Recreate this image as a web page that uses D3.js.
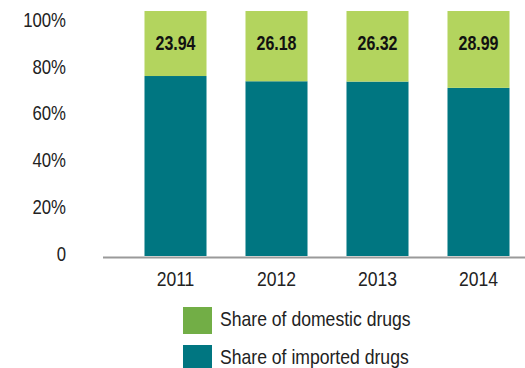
<!DOCTYPE html>
<html>
<head>
<meta charset="utf-8">
<script src="https://cdn.jsdelivr.net/npm/d3@7"></script>
<style>
  body{margin:0;background:#fff;}
  svg text{font-family:"Liberation Sans",Arial,sans-serif;}
</style>
</head>
<body>
<div class="svgWrap"></div>
<script>
var years = ['2011','2012','2013','2014'];
var domestic = [23.94, 26.18, 26.32, 28.99];
var imported = [76.06, 73.82, 73.68, 71.01];
var yTicks = [0, 20, 40, 60, 80, 100];
var seriesNames = ['Share of domestic drugs', 'Share of imported drugs'];

var width = 525, height = 368;
var green = '#b3d45e', legendGreen = '#72ae46', teal = '#007681';

// no narrow font installed, so squeeze text horizontally
function place(x, y, sx){
  return 'translate(' + x + ',' + y + ') scale(' + sx + ',1)';
}

var svg = d3.select('.svgWrap')
  .append('svg')
  .attr('width', width)
  .attr('height', height);

var x = d3.scaleBand()
  .domain(years)
  .range([125, 529])
  .paddingInner(0.386)
  .paddingOuter(0.193);

var y = d3.scaleLinear()
  .domain([0, 100])
  .range([254, 20]);

var barTop = y(100) - 9;
var barBottom = y(0) + 2;

//imported part of each bar
svg.selectAll('.imp')
  .data(imported)
  .enter()
  .append('rect')
  .attr('class', 'imp')
  .attr('x', function(d, i){ return x(years[i]); })
  .attr('width', x.bandwidth())
  .attr('y', function(d){ return y(d); })
  .attr('height', function(d){ return barBottom - y(d); })
  .attr('fill', teal);

//domestic part stacked on top
svg.selectAll('.dom')
  .data(domestic)
  .enter()
  .append('rect')
  .attr('class', 'dom')
  .attr('x', function(d, i){ return x(years[i]); })
  .attr('width', x.bandwidth())
  .attr('y', barTop)
  .attr('height', function(d, i){ return y(imported[i]) - barTop; })
  .attr('fill', green);

//value labels
svg.selectAll('.val')
  .data(domestic)
  .enter()
  .append('text')
  .attr('class', 'val')
  .attr('transform', function(d, i){ return place(x(years[i]) + x.bandwidth()/2, y(100) + 23, 0.82); })
  .attr('dy', '0.35em')
  .attr('text-anchor', 'middle')
  .style('font-size', '19.5px')
  .style('font-weight', 'bold')
  .attr('fill', '#111')
  .text(function(d){ return d.toFixed(2); });

//x axis line
svg.append('line')
  .attr('x1', 103)
  .attr('x2', width)
  .attr('y1', barBottom + 1.5)
  .attr('y2', barBottom + 1.5)
  .attr('stroke', '#9a9a9a')
  .attr('stroke-width', 2);

//year labels
svg.selectAll('.yr')
  .data(years)
  .enter()
  .append('text')
  .attr('class', 'yr')
  .attr('transform', function(d){ return place(x(d) + x.bandwidth()/2, 279, 0.9); })
  .attr('dy', '0.35em')
  .attr('text-anchor', 'middle')
  .style('font-size', '19.5px')
  .attr('fill', '#222')
  .text(function(d){ return d; });

//y tick labels
svg.selectAll('.yt')
  .data(yTicks)
  .enter()
  .append('text')
  .attr('class', 'yt')
  .attr('transform', function(d){ return place(66, y(d), 0.86); })
  .attr('dy', '0.35em')
  .attr('text-anchor', 'end')
  .style('font-size', '19.5px')
  .attr('fill', '#222')
  .text(function(d){ return d === 0 ? '0' : d + '%'; });

//legend
var legend = svg.selectAll('.leg')
  .data(seriesNames)
  .enter()
  .append('g')
  .attr('class', 'leg')
  .attr('transform', function(d, i){ return 'translate(183,' + (307 + i*38) + ')'; });

legend.append('rect')
  .attr('width', 29)
  .attr('height', 27)
  .attr('fill', function(d, i){ return i === 0 ? legendGreen : teal; });

legend.append('text')
  .attr('transform', place(37, 12, 0.88))
  .attr('dy', '0.35em')
  .style('font-size', '20px')
  .attr('fill', '#222')
  .text(function(d){ return d; });
</script>
</body>
</html>
